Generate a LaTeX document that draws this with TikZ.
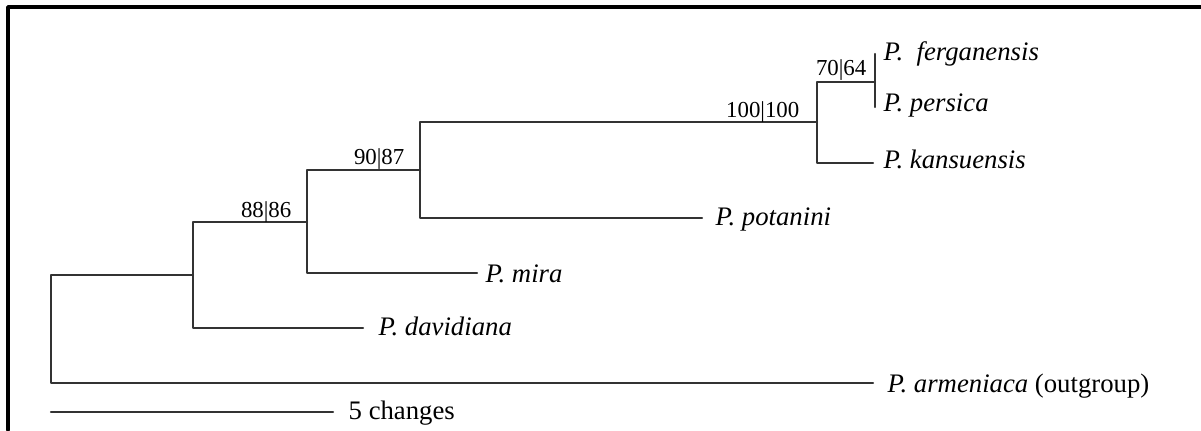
\documentclass[tikz,border=0pt]{standalone}
\usepackage{fontspec}
\setmainfont{Liberation Serif}
\usetikzlibrary{calc}
\begin{document}
\begin{tikzpicture}[x=0.01cm, y=0.01cm, line cap=round, line join=round,
  branch/.style={draw=black!80, line width=0.65pt},
  taxon/.style={anchor=base west, inner sep=0pt, font=\fontsize{7.6}{9}\selectfont\itshape},
  support/.style={anchor=base east, inner sep=0pt, font=\fontsize{6.5}{8}\selectfont},
  scalelbl/.style={anchor=base west, inner sep=0pt, font=\fontsize{7.6}{9}\selectfont}]
\useasboundingbox (0,0) rectangle (1201,430);

% frame
\draw[line width=1pt] (8,0) -- (8,423) -- (1201,423);

% inner nodes
\coordinate (R) at (51,101);
\coordinate (A) at (193,155);
\coordinate (B) at (307,208);
\coordinate (C) at (420,260);
\coordinate (D) at (817,308);
\coordinate (E) at (875,348);

% tips
\coordinate (fer) at (875,376);
\coordinate (per) at (875,323);
\coordinate (kan) at (873,267);
\coordinate (pot) at (702,212);
\coordinate (mir) at (477,157);
\coordinate (dav) at (363,102);
\coordinate (arm) at (873,47);

\draw[branch] (A) -| (R) |- (arm);
\draw[branch] (B) -| (A) |- (dav);
\draw[branch] (C) -| (B) |- (mir);
\draw[branch] (D) -| (C) |- (pot);
\draw[branch] (E) -| (D) |- (kan);
\draw[branch] (fer) -- (per);

\node[support] (sB) at ($(B)+(-15,5)$) {88|86};
\node[support] (sC) at ($(C)+(-15,5)$) {90|87};
\node[support] (sD) at ($(D)+(-17,4)$) {100|100};
\node[support] (sE) at ($(E)+(-8,6)$) {70|64};

\node[taxon] (tfer) at ($(fer)+(8,-7)$) {P.\ \ ferganensis};
\node[taxon] (tper) at ($(per)+(8,-5)$) {P. persica};
\node[taxon] (tkan) at ($(kan)+(10,-5)$) {P. kansuensis};
\node[taxon] (tpot) at ($(pot)+(13,-7)$) {P. potanini};
\node[taxon] (tmir) at ($(mir)+(8,-9)$) {P. mira};
\node[taxon] (tdav) at ($(dav)+(15,-7)$) {P. davidiana};
\node[taxon] (tarm) at ($(arm)+(14,-9)$) {P. armeniaca \upshape(outgroup)};

% scale bar
\coordinate (sb1) at (51,18);
\coordinate (sb2) at (333,18);
\draw[branch] (sb1) -- (sb2);
\node[scalelbl] (lsb) at ($(sb2)+(15,-7)$) {5 changes};
\end{tikzpicture}
\end{document}
